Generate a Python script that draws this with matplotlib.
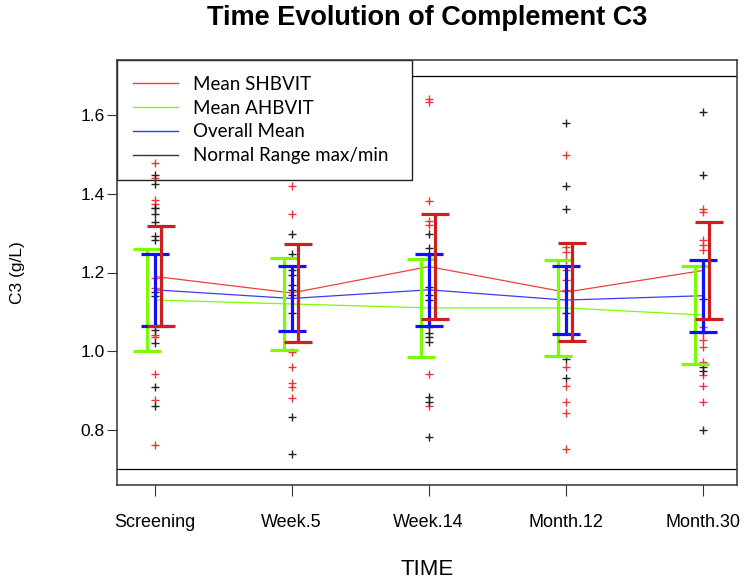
import numpy as np
import matplotlib
matplotlib.use("Agg")
import matplotlib.pyplot as plt
from matplotlib.lines import Line2D

# time points on the x axis
times = ["Screening", "Week.5", "Week.14", "Month.12", "Month.30"]

# individual C3 values (g/L), red = SHBVIT, black = AHBVIT
shbvit_pts = [
    [1.478, 1.441, 1.383, 1.375, 1.365, 1.185, 1.160, 1.042, 1.035, 0.942, 0.876, 0.761],
    [1.419, 1.349, 0.998, 0.960, 0.920, 0.909, 0.881],
    [1.640, 1.633, 1.381, 1.332, 1.320, 0.942, 0.860],
    [1.499, 1.265, 1.252, 1.231, 1.206, 1.180, 1.155, 0.960, 0.912, 0.870, 0.842, 0.751],
    [1.362, 1.354, 1.282, 1.269, 1.256, 1.062, 1.045, 1.028, 1.011, 0.973, 0.939, 0.911, 0.870],
]
ahbvit_pts = [
    [1.449, 1.426, 1.365, 1.349, 1.328, 1.292, 1.282, 1.151, 1.140, 1.053, 1.021, 0.909, 0.860],
    [1.299, 1.248, 1.206, 1.193, 1.168, 1.155, 1.142, 1.096, 0.832, 0.740],
    [1.299, 1.261, 1.244, 1.163, 1.142, 1.129, 1.062, 1.045, 1.035, 1.024, 0.884, 0.871, 0.781],
    [1.580, 1.419, 1.362, 1.096, 0.981, 0.933],
    [1.607, 1.449, 1.132, 0.960, 0.950, 0.800],
]

# group means and error bar half widths
mean_sh = [1.190, 1.148, 1.215, 1.150, 1.205]
err_sh = [0.127, 0.124, 0.133, 0.125, 0.124]
mean_ah = [1.130, 1.120, 1.110, 1.110, 1.092]
err_ah = [0.129, 0.116, 0.125, 0.123, 0.124]
mean_all = [1.156, 1.134, 1.156, 1.130, 1.141]
err_all = [0.091, 0.083, 0.091, 0.086, 0.091]

normal_min = 0.7
normal_max = 1.7

fig = plt.figure(figsize=(7.47, 5.8), dpi=100)
ax = fig.add_axes([117/747, 1 - 485/580, 620/747, 425/580])

x = np.arange(1, len(times) + 1)

# normal range lines
ax.axhline(normal_max, color="black", lw=0.9, zorder=1)
ax.axhline(normal_min, color="black", lw=0.9, zorder=1)

# individual points
for i in range(len(times)):
    ax.plot(np.full(len(shbvit_pts[i]), x[i]), shbvit_pts[i], "+", color="#e8373a",
            ms=6, mew=1.0, zorder=4)
    ax.plot(np.full(len(ahbvit_pts[i]), x[i]), ahbvit_pts[i], "+", color="#222222",
            ms=6, mew=1.0, zorder=4)

# mean lines
ax.plot(x, mean_sh, color="#e8423f", lw=0.9, zorder=3)
ax.plot(x, mean_ah, color="#7cfc00", lw=0.9, zorder=3)
ax.plot(x, mean_all, color="#3a3aff", lw=0.9, zorder=3)

# error bars
ax.errorbar(x - 0.058, mean_ah, yerr=err_ah, fmt="none", ecolor="#7cfc00",
            elinewidth=2.3, capsize=10, capthick=2.3, zorder=5)
ax.errorbar(x, mean_all, yerr=err_all, fmt="none", ecolor="#1010ff",
            elinewidth=2.3, capsize=10, capthick=2.3, zorder=5)
ax.errorbar(x + 0.048, mean_sh, yerr=err_sh, fmt="none", ecolor="#cc1f1f",
            elinewidth=2.3, capsize=10, capthick=2.3, zorder=5)

ax.set_xlim(0.725, 5.25)
ax.set_ylim(0.66, 1.74)
ax.set_xticks(x)
ax.set_xticklabels(times, fontsize=13, family="Liberation Sans")
ax.set_yticks([0.8, 1.0, 1.2, 1.4, 1.6])
ax.set_yticklabels(["0.8", "1.0", "1.2", "1.4", "1.6"], fontsize=12.5, family="Liberation Sans")
ax.tick_params(axis="x", length=8, pad=13, color="#333333")
ax.tick_params(axis="y", length=7, pad=2, color="#333333")
for s in ax.spines.values():
    s.set_color("#333333")
    s.set_linewidth(1.1)

ax.set_xlabel("TIME", fontsize=16, family="Liberation Sans", labelpad=20)
ax.set_ylabel("C3 (g/L)", fontsize=12.5, family="Liberation Sans", labelpad=40)
fig.text(0.5 * (117 + 737) / 747, 1 - 18/580, "Time Evolution of Complement C3",
         ha="center", va="center", fontsize=19.5, fontweight="bold", family="Liberation Sans")

handles = [
    Line2D([], [], color="#e8423f", lw=1),
    Line2D([], [], color="#7cfc00", lw=1),
    Line2D([], [], color="#3a3aff", lw=1),
    Line2D([], [], color="#333333", lw=1),
]
labels = ["Mean SHBVIT", "Mean AHBVIT", "Overall Mean", "Normal Range max/min"]
leg = ax.legend(handles, labels, loc="upper left", bbox_to_anchor=(0, 1, 0.476, 0),
                mode="expand", borderaxespad=0, fancybox=False, framealpha=1,
                edgecolor="#222222", prop={"family": "Lato", "size": 13.5},
                handlelength=2.4, handletextpad=0.8, labelspacing=0.36, borderpad=0.85)
leg.get_frame().set_linewidth(1.0)
leg.set_zorder(2)

fig.savefig("out.png", dpi=100)
